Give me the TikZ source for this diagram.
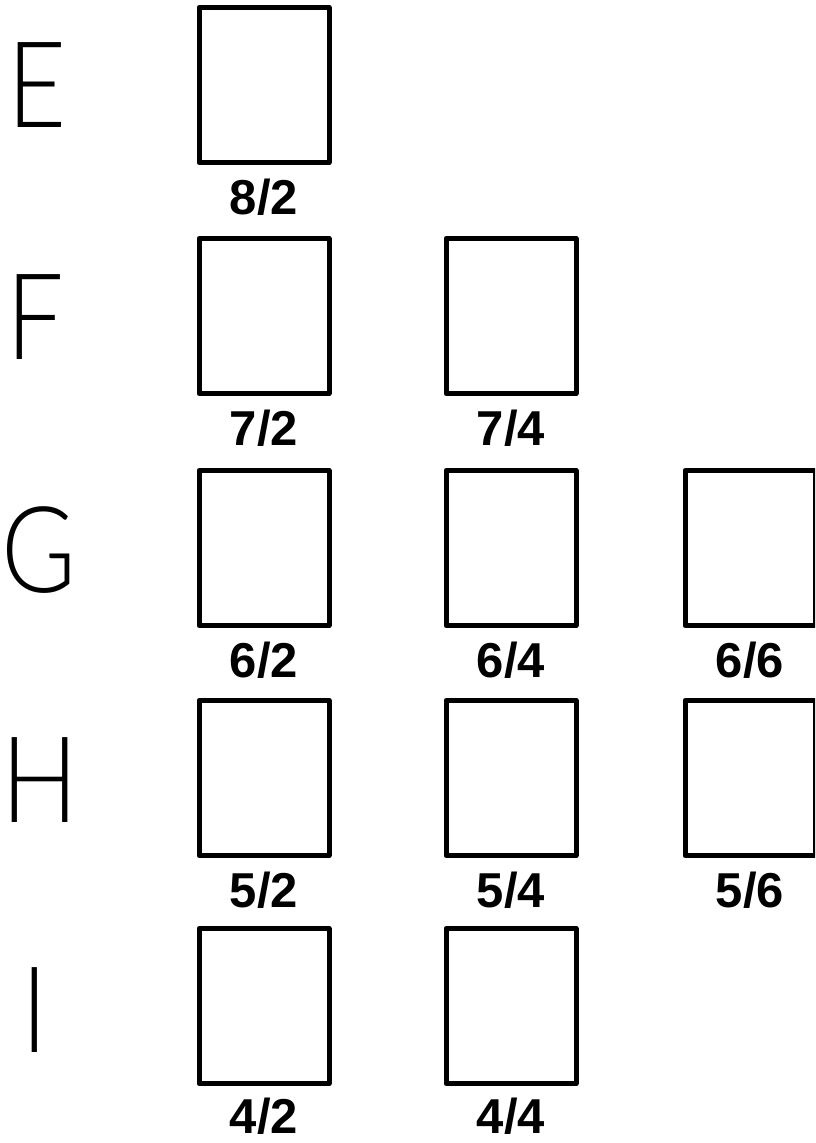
\documentclass[tikz,border=0pt]{standalone}
\usepackage{fontspec}
\setmainfont{Liberation Sans}
\newfontfamily\thinfont{Lato Light}[FakeStretch=0.85]
\usetikzlibrary{positioning}

\begin{document}
\begin{tikzpicture}[x=1pt, y=-1pt,
  frame/.style={draw, line width=5pt, line join=round, minimum width=130pt, minimum height=155pt, inner sep=0pt},
  lab/.style={font=\fontsize{49}{49}\selectfont\bfseries, inner sep=0pt},
  rowname/.style={font=\thinfont\fontsize{120}{120}\selectfont, inner sep=0pt}]
\useasboundingbox (0,0) rectangle (815,1143);
\clip (0,0) rectangle (815,1143);

% Row letters
\node[rowname] (rE) at (37,85) {E};
\node[rowname] (rF) at (35,317) {F};
\node[rowname] (rG) at (39,550) {G};
\node[rowname] (rH) at (40,780) {H};
\node[rowname] (rI) at (35,1010) {I};

% Boxes
\node[frame] (b82) at (264,85) {};
\node[frame] (b72) at (264,316) {};
\node[frame] (b74) at (511,316) {};
\node[frame] (b62) at (264,548) {};
\node[frame] (b64) at (511,548) {};
\node[frame] (b66) at (750,548) {};
\node[frame] (b52) at (264,778) {};
\node[frame] (b54) at (511,778) {};
\node[frame] (b56) at (750,778) {};
\node[frame] (b42) at (264,1006) {};
\node[frame] (b44) at (511,1006) {};

% Labels
\node[lab, below=14pt of b82] (l82) {8/2};
\node[lab, below=14pt of b72] (l72) {7/2};
\node[lab, below=14pt of b74] (l74) {7/4};
\node[lab, below=14pt of b62] (l62) {6/2};
\node[lab, below=14pt of b64] (l64) {6/4};
\node[lab, below=14pt of b66] (l66) {6/6};
\node[lab, below=14pt of b52] (l52) {5/2};
\node[lab, below=14pt of b54] (l54) {5/4};
\node[lab, below=14pt of b56] (l56) {5/6};
\node[lab, below=12pt of b42] (l42) {4/2};
\node[lab, below=12pt of b44] (l44) {4/4};

\end{tikzpicture}
\end{document}
